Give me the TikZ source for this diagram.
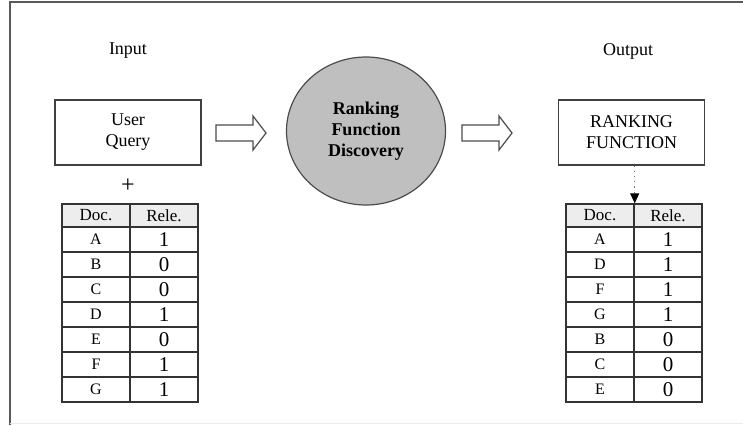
\documentclass[tikz,border=0pt]{standalone}
\usepackage{fontspec}
\setmainfont{Liberation Serif}
\usepackage{tkz-euclide}
\usetikzlibrary{calc,shapes.geometric,arrows.meta}

\begin{document}
\begin{tikzpicture}[x=0.5pt,y=-0.5pt,
    txt/.style={font=\fontsize{9pt}{10.5pt}\selectfont,align=center,inner sep=0pt},
    box/.style={txt,draw=black!75,line width=0.6pt,minimum width=73pt,minimum height=32.5pt},
    cell/.style={draw=black!80,line width=0.7pt,minimum width=34pt,minimum height=12.5pt,inner sep=0pt,
        font=\fontsize{8pt}{9pt}\selectfont},
    head/.style={fill=black!7,minimum height=11.5pt,font=\fontsize{8.5pt}{10pt}\selectfont},
    digit/.style={font=\fontsize{10.5pt}{12pt}\selectfont},
    blockarr/.style={draw=black!70,line width=0.6pt,fill=white},
    dotarr/.style={draw=black!55,dotted,line width=0.6pt,-{Triangle[length=5pt,width=4.5pt,color=black]}}]
                \useasboundingbox (0,0) rectangle (743,425);
                \draw[black!65,line width=1pt] (10,425) -- (10,2) -- (743,2);
                \draw[black!8,line width=0.5pt] (10,423.5) -- (743,423.5);
                \tkzDefPoint(128,132.5){Q}
                \tkzDefPoint(366,131){D}
                \tkzDefPoint(631.5,132.5){F}
                \node[txt] (in) at (128,51) {Input};
                \node[txt] (out) at (628,51) {Output};
                \node[box] (query) at (Q) {User\\Query};
                \node[ellipse,draw=black!70,line width=0.6pt,fill=black!25,minimum width=79.5pt,minimum height=74pt,
                    txt,font=\fontsize{9pt}{10.5pt}\selectfont\bfseries] (disc) at (D) {Ranking\\Function\\Discovery};
                \node[box] (rank) at (F) {RANKING\\FUNCTION};
                \node[txt,font=\fontsize{12pt}{12pt}\selectfont] (plus) at (128,186) {+};
                %\draw (query) -- (disc);
                \foreach \s in {216,462}
                    \draw[blockarr] (\s,125) -- ++(37,0) -- ++(0,-9) -- ++(13,17) -- ++(-13,17) -- ++(0,-9) -- ++(-37,0) -- cycle;
                % input table
                \node[cell,head] (L0a) at (96,215.5) {Doc.};
                \node[cell,head] (L0b) at (164,215.5) {Rele.};
                \foreach \d/\v [count=\i] in {A/1,B/0,C/0,D/1,E/0,F/1,G/1}{
                    \node[cell] (L\i a) at (96,214.5+25*\i) {\d};
                    \node[cell,digit] (L\i b) at (164,214.5+25*\i) {\v};
                }
                % output table
                \node[cell,head] (R0a) at (600,215.5) {Doc.};
                \node[cell,head] (R0b) at (668,215.5) {Rele.};
                \foreach \d/\v [count=\i] in {A/1,D/1,F/1,G/1,B/0,C/0,E/0}{
                    \node[cell] (R\i a) at (600,214.5+25*\i) {\d};
                    \node[cell,digit] (R\i b) at (668,214.5+25*\i) {\v};
                }
                \draw[dotarr] (rank.south -| R0a.north east) -- (R0a.north east);
            \end{tikzpicture}
\end{document}
